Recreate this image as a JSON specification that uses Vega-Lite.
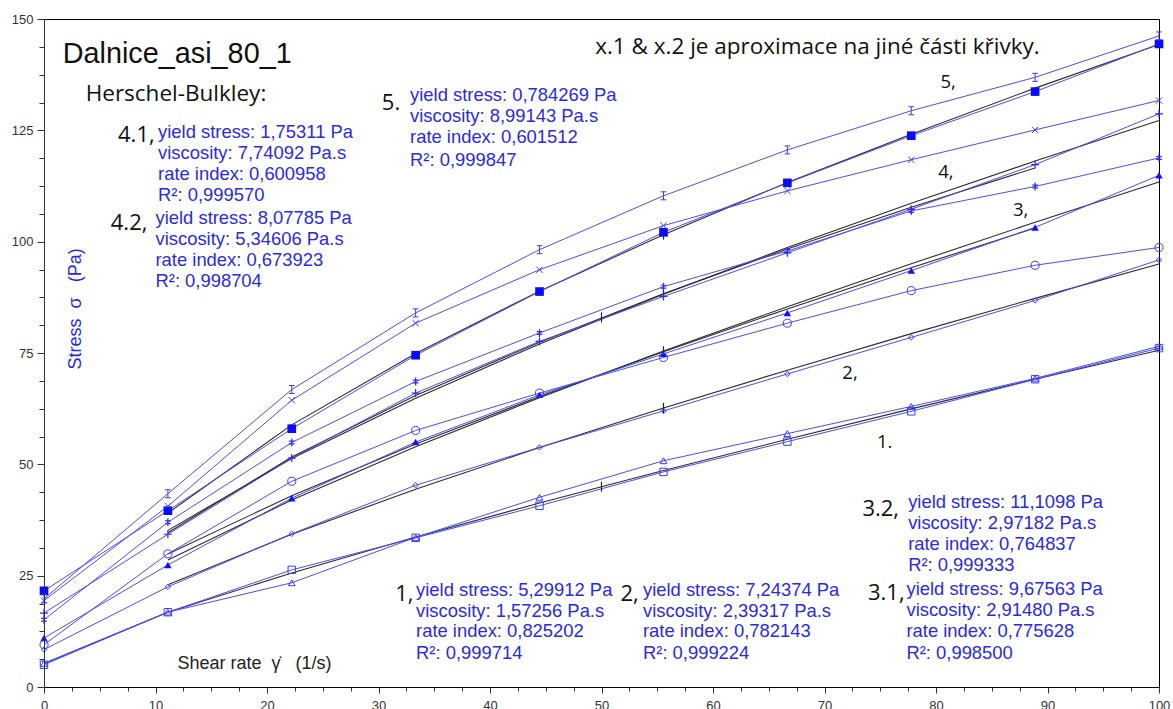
{
  "$schema": "https://vega.github.io/schema/vega-lite/v6.json",
  "width": 1115,
  "height": 668,
  "autosize": {"type": "none"},
  "padding": {"left": 44, "top": 19, "right": 14, "bottom": 22},
  "background": "white",
  "config": {"view": {"stroke": "#000", "strokeWidth": 1}},
  "datasets": {
    "meas": [
      {"s":"1a","x":0,"y":5.0},{"s":"1a","x":11.11,"y":16.8},{"s":"1a","x":22.22,"y":26.3},{"s":"1a","x":33.33,"y":33.5},{"s":"1a","x":44.44,"y":40.7},{"s":"1a","x":55.56,"y":48.3},{"s":"1a","x":66.67,"y":55.1},{"s":"1a","x":77.78,"y":61.9},{"s":"1a","x":88.89,"y":69.1},{"s":"1a","x":100,"y":76.1},
      {"s":"1b","x":0,"y":5.3},{"s":"1b","x":11.11,"y":16.8},{"s":"1b","x":22.22,"y":23.4},{"s":"1b","x":33.33,"y":33.6},{"s":"1b","x":44.44,"y":42.6},{"s":"1b","x":55.56,"y":50.8},{"s":"1b","x":66.67,"y":56.9},{"s":"1b","x":77.78,"y":63.0},{"s":"1b","x":88.89,"y":69.3},{"s":"1b","x":100,"y":76.5},
      {"s":"2","x":0,"y":8.4},{"s":"2","x":11.11,"y":22.5},{"s":"2","x":22.22,"y":34.4},{"s":"2","x":33.33,"y":45.3},{"s":"2","x":44.44,"y":53.8},{"s":"2","x":55.56,"y":62.0},{"s":"2","x":66.67,"y":70.3},{"s":"2","x":77.78,"y":78.5},{"s":"2","x":88.89,"y":86.8},{"s":"2","x":100,"y":95.9},
      {"s":"3a","x":0,"y":11.0},{"s":"3a","x":11.11,"y":27.4},{"s":"3a","x":22.22,"y":42.4},{"s":"3a","x":33.33,"y":55.0},{"s":"3a","x":44.44,"y":65.6},{"s":"3a","x":55.56,"y":74.8},{"s":"3a","x":66.67,"y":84.0},{"s":"3a","x":77.78,"y":93.5},{"s":"3a","x":88.89,"y":103.2},{"s":"3a","x":100,"y":114.9},
      {"s":"3b","x":0,"y":9.5},{"s":"3b","x":11.11,"y":29.9},{"s":"3b","x":22.22,"y":46.2},{"s":"3b","x":33.33,"y":57.6},{"s":"3b","x":44.44,"y":66.0},{"s":"3b","x":55.56,"y":74.0},{"s":"3b","x":66.67,"y":81.7},{"s":"3b","x":77.78,"y":89.0},{"s":"3b","x":88.89,"y":94.7},{"s":"3b","x":100,"y":98.7},
      {"s":"4a","x":0,"y":16.6},{"s":"4a","x":11.11,"y":34.3},{"s":"4a","x":22.22,"y":51.4},{"s":"4a","x":33.33,"y":66.0},{"s":"4a","x":44.44,"y":77.6},{"s":"4a","x":55.56,"y":87.7},{"s":"4a","x":66.67,"y":97.5},{"s":"4a","x":77.78,"y":107.3},{"s":"4a","x":88.89,"y":117.3},{"s":"4a","x":100,"y":128.7},
      {"s":"4b","x":0,"y":15.1},{"s":"4b","x":11.11,"y":37.0},{"s":"4b","x":22.22,"y":54.9},{"s":"4b","x":33.33,"y":68.6},{"s":"4b","x":44.44,"y":79.5},{"s":"4b","x":55.56,"y":89.9},{"s":"4b","x":66.67,"y":97.9},{"s":"4b","x":77.78,"y":106.9},{"s":"4b","x":88.89,"y":112.4},{"s":"4b","x":100,"y":118.8},
      {"s":"5a","x":0,"y":21.6},{"s":"5a","x":11.11,"y":39.6},{"s":"5a","x":22.22,"y":58.0},{"s":"5a","x":33.33,"y":74.5},{"s":"5a","x":44.44,"y":88.8},{"s":"5a","x":55.56,"y":102.1},{"s":"5a","x":66.67,"y":113.2},{"s":"5a","x":77.78,"y":123.8},{"s":"5a","x":88.89,"y":133.7},{"s":"5a","x":100,"y":144.4},
      {"s":"5b","x":0,"y":19.4},{"s":"5b","x":11.11,"y":40.6},{"s":"5b","x":22.22,"y":64.4},{"s":"5b","x":33.33,"y":81.7},{"s":"5b","x":44.44,"y":93.7},{"s":"5b","x":55.56,"y":103.6},{"s":"5b","x":66.67,"y":111.4},{"s":"5b","x":77.78,"y":118.4},{"s":"5b","x":88.89,"y":125.1},{"s":"5b","x":100,"y":131.7},
      {"s":"5c","x":0,"y":19.8},{"s":"5c","x":11.11,"y":43.4},{"s":"5c","x":22.22,"y":66.8},{"s":"5c","x":33.33,"y":84.0},{"s":"5c","x":44.44,"y":98.2},{"s":"5c","x":55.56,"y":110.3},{"s":"5c","x":66.67,"y":120.6},{"s":"5c","x":77.78,"y":129.4},{"s":"5c","x":88.89,"y":136.9},{"s":"5c","x":100,"y":146.2}
    ],
    "fits": [
      {"f":"1","x":0,"y":5.30},{"f":"1","x":11.11,"y":16.77},{"f":"1","x":22.22,"y":25.62},{"f":"1","x":33.33,"y":33.70},{"f":"1","x":44.44,"y":41.31},{"f":"1","x":55.56,"y":48.60},{"f":"1","x":66.67,"y":55.62},{"f":"1","x":77.78,"y":62.45},{"f":"1","x":88.89,"y":69.10},{"f":"1","x":100,"y":75.60},
      {"f":"2","x":11.11,"y":22.98},{"f":"2","x":22.22,"y":34.31},{"f":"2","x":33.33,"y":44.41},{"f":"2","x":44.44,"y":53.77},{"f":"2","x":55.56,"y":62.66},{"f":"2","x":66.67,"y":71.14},{"f":"2","x":77.78,"y":79.35},{"f":"2","x":88.89,"y":87.27},{"f":"2","x":100,"y":95.00},
      {"f":"3.1","x":11.11,"y":28.54},{"f":"3.1","x":22.22,"y":41.98},{"f":"3.1","x":33.33,"y":53.93},{"f":"3.1","x":44.44,"y":64.97},{"f":"3.1","x":55.56,"y":75.43},{"f":"3.1","x":66.67,"y":85.40},{"f":"3.1","x":77.78,"y":95.03},{"f":"3.1","x":88.89,"y":104.35},{"f":"3.1","x":100,"y":113.42},
      {"f":"3.2","x":11.11,"y":29.85},{"f":"3.2","x":22.22,"y":42.97},{"f":"3.2","x":33.33,"y":54.56},{"f":"3.2","x":44.44,"y":65.23},{"f":"3.2","x":55.56,"y":75.30},{"f":"3.2","x":66.67,"y":84.90},{"f":"3.2","x":77.78,"y":94.14},{"f":"3.2","x":88.89,"y":103.06},
      {"f":"4.1","x":11.11,"y":34.65},{"f":"4.1","x":22.22,"y":51.66},{"f":"4.1","x":33.33,"y":65.43},{"f":"4.1","x":44.44,"y":77.44},{"f":"4.1","x":55.56,"y":88.30},{"f":"4.1","x":66.67,"y":98.36},{"f":"4.1","x":77.78,"y":107.72},{"f":"4.1","x":88.89,"y":116.55},
      {"f":"4.2","x":11.11,"y":35.17},{"f":"4.2","x":22.22,"y":51.30},{"f":"4.2","x":33.33,"y":64.86},{"f":"4.2","x":44.44,"y":77.04},{"f":"4.2","x":55.56,"y":88.22},{"f":"4.2","x":66.67,"y":98.70},{"f":"4.2","x":77.78,"y":108.64},{"f":"4.2","x":88.89,"y":118.10},{"f":"4.2","x":100,"y":127.19},
      {"f":"5","x":11.11,"y":39.05},{"f":"5","x":22.22,"y":58.86},{"f":"5","x":33.33,"y":74.90},{"f":"5","x":44.44,"y":88.89},{"f":"5","x":55.56,"y":101.57},{"f":"5","x":66.67,"y":113.26},{"f":"5","x":77.78,"y":124.14},{"f":"5","x":88.89,"y":134.48},{"f":"5","x":100,"y":144.28}
    ],
    "cursors": [
      {"x":50,"y":44.99},{"x":50,"y":83.0},{"x":55.56,"y":101.57},{"x":55.56,"y":88.22},{"x":55.56,"y":75.4},{"x":55.56,"y":62.66}
    ],
    "notes": [
      {"g":"title","x":1.68,"y":140.2,"t":"Dalnice_asi_80_1"},
      {"g":"hb","x":3.74,"y":131.5,"t":"Herschel-Bulkley:"},
      {"g":"hb","x":49.43,"y":142.2,"t":"x.1 & x.2 je aproximace na jiné části křivky."},
      {"g":"curve","x":80.4,"y":134.5,"t":"5,"},
      {"g":"curve","x":80.2,"y":114.3,"t":"4,"},
      {"g":"curve","x":86.9,"y":105.7,"t":"3,"},
      {"g":"curve","x":71.6,"y":69.2,"t":"2,"},
      {"g":"curve","x":74.7,"y":53.7,"t":"1."},
      {"g":"lab","x":6.64,"y":122.3,"t":"4.1,"},
      {"g":"lab","x":5.99,"y":102.7,"t":"4.2,"},
      {"g":"lab","x":30.3,"y":129.6,"t":"5."},
      {"g":"lab","x":31.5,"y":19.2,"t":"1,"},
      {"g":"lab","x":51.7,"y":19.2,"t":"2,"},
      {"g":"lab","x":73.4,"y":38.3,"t":"3.2,"},
      {"g":"lab","x":73.9,"y":19.6,"t":"3.1,"},
      {"g":"blk","x":10.23,"y":123.25,"t":"yield stress: 1,75311 Pa"},
      {"g":"blk","x":10.23,"y":118.54,"t":"viscosity: 7,74092 Pa.s"},
      {"g":"blk","x":10.23,"y":113.84,"t":"rate index: 0,600958"},
      {"g":"blk","x":10.23,"y":109.02,"t":"R²: 0,999570"},
      {"g":"blk","x":10.0,"y":104.02,"t":"yield stress: 8,07785 Pa"},
      {"g":"blk","x":10.0,"y":99.31,"t":"viscosity: 5,34606 Pa.s"},
      {"g":"blk","x":10.0,"y":94.59,"t":"rate index: 0,673923"},
      {"g":"blk","x":10.0,"y":89.81,"t":"R²: 0,998704"},
      {"g":"blk","x":32.83,"y":131.69,"t":"yield stress: 0,784269 Pa"},
      {"g":"blk","x":32.83,"y":126.98,"t":"viscosity: 8,99143 Pa.s"},
      {"g":"blk","x":32.83,"y":122.13,"t":"rate index: 0,601512"},
      {"g":"blk","x":32.83,"y":117.10,"t":"R²: 0,999847"},
      {"g":"blk","x":33.37,"y":20.36,"t":"yield stress: 5,29912 Pa"},
      {"g":"blk","x":33.37,"y":15.74,"t":"viscosity: 1,57256 Pa.s"},
      {"g":"blk","x":33.37,"y":11.16,"t":"rate index: 0,825202"},
      {"g":"blk","x":33.37,"y":6.31,"t":"R²: 0,999714"},
      {"g":"blk","x":53.72,"y":20.36,"t":"yield stress: 7,24374 Pa"},
      {"g":"blk","x":53.72,"y":15.74,"t":"viscosity: 2,39317 Pa.s"},
      {"g":"blk","x":53.72,"y":11.16,"t":"rate index: 0,782143"},
      {"g":"blk","x":53.72,"y":6.31,"t":"R²: 0,999224"},
      {"g":"blk","x":77.5,"y":40.2,"t":"yield stress: 11,1098 Pa"},
      {"g":"blk","x":77.5,"y":35.56,"t":"viscosity: 2,97182 Pa.s"},
      {"g":"blk","x":77.5,"y":30.84,"t":"rate index: 0,764837"},
      {"g":"blk","x":77.5,"y":25.97,"t":"R²: 0,999333"},
      {"g":"blk","x":77.35,"y":20.58,"t":"yield stress: 9,67563 Pa"},
      {"g":"blk","x":77.35,"y":15.87,"t":"viscosity: 2,91480 Pa.s"},
      {"g":"blk","x":77.35,"y":11.16,"t":"rate index: 0,775628"},
      {"g":"blk","x":77.35,"y":6.31,"t":"R²: 0,998500"},
      {"g":"ytitle","x":3.3,"y":84.9,"t":"Stress\u00a0\u00a0σ\u00a0\u00a0\u00a0(Pa)"},
      {"g":"xtitle","x":11.97,"y":4.13,"t":"Shear rate\u00a0\u00a0γ̇\u00a0\u00a0\u00a0(1/s)"}
    ]
  },
  "encoding": {
    "x": {"field": "x", "type": "quantitative", "scale": {"domain": [0, 100], "nice": false, "zero": false},
      "axis": {"title": null, "grid": false, "zindex": 1,
        "values": [0,2.5,5,7.5,10,12.5,15,17.5,20,22.5,25,27.5,30,32.5,35,37.5,40,42.5,45,47.5,50,52.5,55,57.5,60,62.5,65,67.5,70,72.5,75,77.5,80,82.5,85,87.5,90,92.5,95,97.5,100],
        "labelExpr": "datum.value % 10 === 0 ? datum.label : ''",
        "tickSize": {"condition": {"test": "datum.value % 10 === 0", "value": 6}, "value": 4},
        "domainColor": "#000", "tickColor": "#333", "labelColor": "#333", "labelFont": "Liberation Sans", "labelFontSize": 13,
        "labelPadding": 6, "labelFlush": false, "labelOverlap": false}},
    "y": {"field": "y", "type": "quantitative", "scale": {"domain": [0, 150], "nice": false, "zero": false},
      "axis": {"title": null, "grid": false, "zindex": 1,
        "values": [0,6.25,12.5,18.75,25,31.25,37.5,43.75,50,56.25,62.5,68.75,75,81.25,87.5,93.75,100,106.25,112.5,118.75,125,131.25,137.5,143.75,150],
        "labelExpr": "datum.value % 25 === 0 ? datum.label : ''",
        "tickSize": {"condition": {"test": "datum.value % 25 === 0", "value": 7}, "value": 5},
        "domainColor": "#333", "tickColor": "#333", "labelColor": "#333", "labelFont": "Liberation Sans", "labelFontSize": 13,
        "labelPadding": 4, "labelFlush": false, "labelOverlap": false}}
  },
  "layer": [
    {"data": {"values": [{}]}, "mark": {"type": "rect", "color": "#dedede"},
      "encoding": {"x": {"datum": -0.45, "type": "quantitative"}, "x2": {"datum": 0}, "y": {"datum": 0, "type": "quantitative"}, "y2": {"datum": 151.3}}},
    {"data": {"values": [{}]}, "mark": {"type": "rect", "color": "#e4e4e4"},
      "encoding": {"x": {"datum": -0.45, "type": "quantitative"}, "x2": {"datum": 100.7}, "y": {"datum": 150, "type": "quantitative"}, "y2": {"datum": 151.3}}},
    {"data": {"values": [{}]}, "mark": {"type": "rect", "color": "#ececec"},
      "encoding": {"x": {"datum": 100, "type": "quantitative"}, "x2": {"datum": 100.7}, "y": {"datum": 0, "type": "quantitative"}, "y2": {"datum": 151.3}}},
    {"data": {"name": "fits"}, "mark": {"type": "line", "color": "#2b2b2b", "strokeWidth": 1.1}, "encoding": {"detail": {"field": "f"}}},
    {"data": {"name": "meas"}, "mark": {"type": "line", "color": "#4b4bff", "strokeWidth": 1}, "encoding": {"detail": {"field": "s"}}},
    {"data": {"name": "cursors"}, "mark": {"type": "point", "shape": "M0,-1V1", "size": 100, "filled": false, "color": "#222", "strokeWidth": 1.2, "opacity": 1}},
    {"data": {"name": "meas"}, "transform": [{"filter": "datum.s === '1a'"}], "mark": {"type": "point", "shape": "square", "size": 55, "filled": false, "color": "#3a3aff", "strokeWidth": 1, "opacity": 1}},
    {"data": {"name": "meas"}, "transform": [{"filter": "datum.s === '1b'"}], "mark": {"type": "point", "shape": "triangle-up", "size": 45, "filled": false, "color": "#3a3aff", "strokeWidth": 1, "opacity": 1}},
    {"data": {"name": "meas"}, "transform": [{"filter": "datum.s === '2'"}], "mark": {"type": "point", "shape": "diamond", "size": 30, "filled": false, "color": "#3a3aff", "strokeWidth": 1, "opacity": 1}},
    {"data": {"name": "meas"}, "transform": [{"filter": "datum.s === '3a'"}], "mark": {"type": "point", "shape": "triangle-up", "size": 55, "filled": true, "color": "#1010ff", "opacity": 1}},
    {"data": {"name": "meas"}, "transform": [{"filter": "datum.s === '3b'"}], "mark": {"type": "point", "shape": "circle", "size": 65, "filled": false, "color": "#3a3aff", "strokeWidth": 1, "opacity": 1}},
    {"data": {"name": "meas"}, "transform": [{"filter": "datum.s === '4a'"}], "mark": {"type": "point", "shape": "M-1,0H1M0,-1V1", "size": 64, "filled": false, "color": "#2a2aff", "strokeWidth": 1.2, "opacity": 1}},
    {"data": {"name": "meas"}, "transform": [{"filter": "datum.s === '4b'"}], "mark": {"type": "point", "shape": "M0,-1V1M-0.7,-0.35H0.7M-0.7,0.35H0.7", "size": 64, "filled": false, "color": "#2a2aff", "strokeWidth": 1.2, "opacity": 1}},
    {"data": {"name": "meas"}, "transform": [{"filter": "datum.s === '5a'"}], "mark": {"type": "point", "shape": "square", "size": 75, "filled": true, "color": "#0a0aff", "opacity": 1}},
    {"data": {"name": "meas"}, "transform": [{"filter": "datum.s === '5b'"}], "mark": {"type": "point", "shape": "M-1,-1L1,1M-1,1L1,-1", "size": 40, "filled": false, "color": "#3a3aff", "strokeWidth": 1, "opacity": 1}},
    {"data": {"name": "meas"}, "transform": [{"filter": "datum.s === '5c'"}], "mark": {"type": "point", "shape": "M-0.7,-1H0.7M0,-1V1M-0.7,1H0.7", "size": 64, "filled": false, "color": "#3a3aff", "strokeWidth": 1, "opacity": 1}},
    {"data": {"name": "notes"}, "transform": [{"filter": "datum.g === 'title'"}], "mark": {"type": "text", "align": "left", "baseline": "alphabetic", "font": "Liberation Sans", "fontSize": 28.8, "color": "#111"}, "encoding": {"text": {"field": "t"}}},
    {"data": {"name": "notes"}, "transform": [{"filter": "datum.g === 'hb'"}], "mark": {"type": "text", "align": "left", "baseline": "alphabetic", "font": "Open Sans", "fontSize": 22.5, "color": "#111"}, "encoding": {"text": {"field": "t"}}},
    {"data": {"name": "notes"}, "transform": [{"filter": "datum.g === 'curve'"}], "mark": {"type": "text", "align": "left", "baseline": "alphabetic", "font": "Open Sans", "fontSize": 18.5, "color": "#111"}, "encoding": {"text": {"field": "t"}}},
    {"data": {"name": "notes"}, "transform": [{"filter": "datum.g === 'lab'"}], "mark": {"type": "text", "align": "left", "baseline": "alphabetic", "font": "Open Sans", "fontSize": 22, "color": "#111"}, "encoding": {"text": {"field": "t"}}},
    {"data": {"name": "notes"}, "transform": [{"filter": "datum.g === 'blk'"}], "mark": {"type": "text", "align": "left", "baseline": "alphabetic", "font": "Liberation Sans", "fontSize": 18.4, "color": "#2a2ae6"}, "encoding": {"text": {"field": "t"}}},
    {"data": {"name": "notes"}, "transform": [{"filter": "datum.g === 'ytitle'"}], "mark": {"type": "text", "align": "center", "baseline": "alphabetic", "angle": 270, "font": "Liberation Sans", "fontSize": 18, "color": "#2a2ae6"}, "encoding": {"text": {"field": "t"}}},
    {"data": {"name": "notes"}, "transform": [{"filter": "datum.g === 'xtitle'"}], "mark": {"type": "text", "align": "left", "baseline": "alphabetic", "font": "Liberation Sans", "fontSize": 18, "color": "#222"}, "encoding": {"text": {"field": "t"}}}
  ]
}
